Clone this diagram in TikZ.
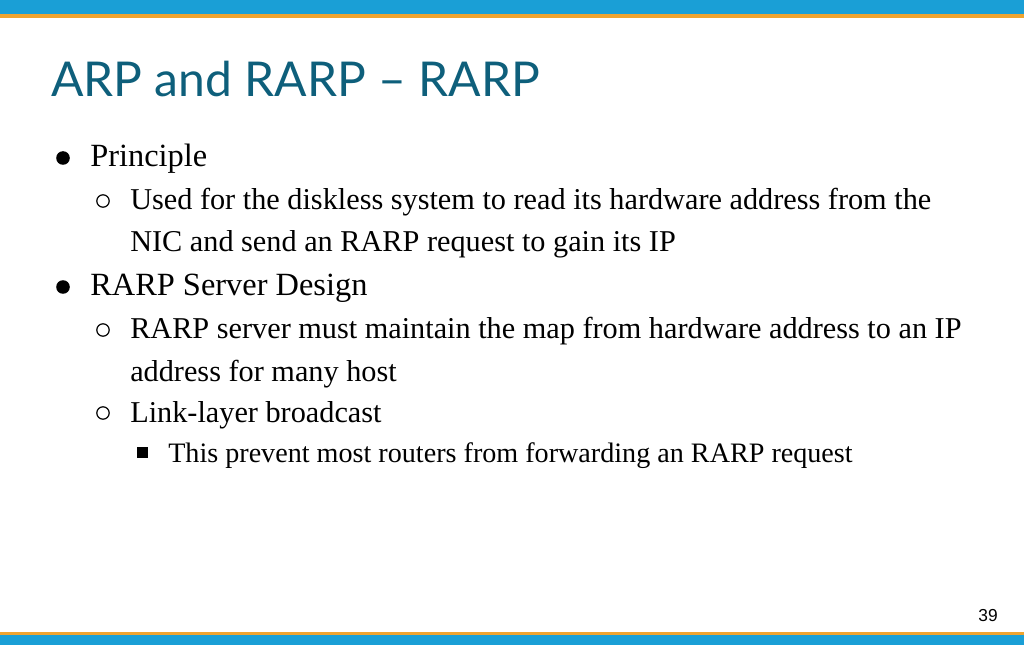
\documentclass[tikz,border=0pt]{standalone}
\usepackage{fontspec}
\setmainfont{Liberation Serif}
\newfontfamily\titlefont{Lato}
\newfontfamily\numfont{Liberation Sans}
\usepackage{tikz}
\definecolor{barblue}{HTML}{1A9FD6}
\definecolor{barorange}{HTML}{EFA430}
\definecolor{titleteal}{HTML}{0E5F7B}

\begin{document}
\begin{tikzpicture}[x=0.75pt,y=-0.75pt,
  lone/.style={anchor=base west,inner sep=0pt,font=\fontsize{24.3}{28}\selectfont},
  ltwo/.style={anchor=base west,inner sep=0pt,font=\fontsize{22.7}{27}\selectfont},
  lthree/.style={anchor=base west,inner sep=0pt,font=\fontsize{21.1}{25}\selectfont},
  ring/.style={line width=0.9pt}]
  \useasboundingbox (0,0) rectangle (1024,645);
  % bars
  \fill[barblue] (0,0) rectangle (1024,14);
  \fill[barorange] (0,14) rectangle (1024,18);
  \fill[barorange] (0,632) rectangle (1024,635);
  \fill[barblue] (0,635) rectangle (1024,645);

  \node[anchor=base west,inner sep=0pt,text=titleteal,font=\titlefont\fontsize{36}{40}\selectfont] (title) at (51,97) {ARP and RARP – RARP};

  % level one
  \fill (63,158) circle (6.8);
  \node[lone] (principle) at (90,167) {Principle};
  \fill (63,287) circle (6.8);
  \node[lone] (design) at (90,296) {RARP Server Design};

  % level two
  \draw[ring] (103,201) circle (6.2);
  \node[ltwo] (used) at (130,210) {Used for the diskless system to read its hardware address from the};
  \node[ltwo] (nic) at (130,252) {NIC and send an RARP request to gain its IP};
  \draw[ring] (103,330) circle (6.2);
  \node[ltwo] (server) at (130,338) {RARP server must maintain the map from hardware address to an IP};
  \node[ltwo] (addr) at (130,381) {address for many host};
  \draw[ring] (103,413) circle (6.2);
  \node[ltwo] (link) at (130,422) {Link-layer broadcast};

  % level three
  \fill (137,447) rectangle (148,458);
  \node[lthree] (prevent) at (168,462) {This prevent most routers from forwarding an RARP request};

  \node[anchor=base east,inner sep=0pt,font=\numfont\fontsize{13}{15}\selectfont] (num) at (998,621) {39};
\end{tikzpicture}
\end{document}
